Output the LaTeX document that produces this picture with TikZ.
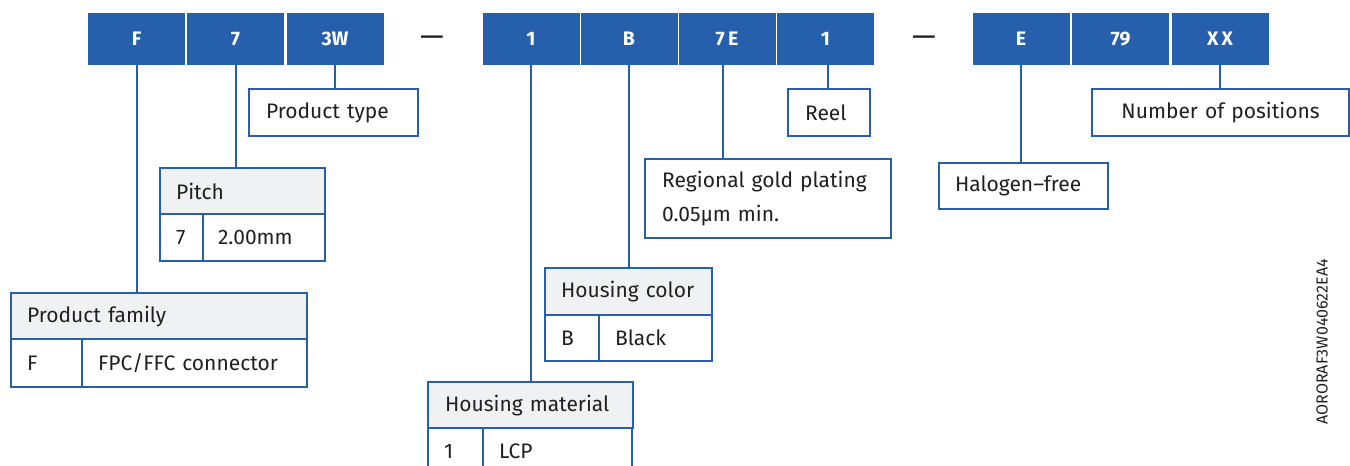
\documentclass[tikz,border=0pt]{standalone}
\usepackage{fontspec}
\setmainfont{Fira Sans}
\definecolor{cblue}{HTML}{265FAC}
\definecolor{chead}{HTML}{F0F1F3}
\definecolor{ctext}{HTML}{231F20}
\tikzset{
  code/.style={fill=cblue, text=white, font=\fontsize{19.5}{22}\selectfont\bfseries,
    minimum width=97pt, minimum height=52pt, inner sep=0pt, anchor=center},
  frame/.style={draw=cblue, line width=2.2pt, text=ctext, fill=white,
    font=\fontsize{21}{34}\selectfont, inner ysep=0pt, inner xsep=16pt,
    anchor=north west, align=left},
  head/.style={frame, fill=chead},
  link/.style={draw=cblue, line width=2pt},
  dashmark/.style={text=ctext, font=\fontsize{30}{32}\selectfont, inner sep=0pt}
}
\begin{document}
\begin{tikzpicture}[x=1pt,y=-1pt]
\useasboundingbox (0,0) rectangle (1350,466);
\clip (0,0) rectangle (1350,466);
% code boxes
\node[code] (cF)  at (136.5,39) {F};
\node[code] (c7)  at (235.5,39) {7};
\node[code] (c3W) at (335,39) {3W};
\node[dashmark] (d1) at (432,41.5) {—};
\node[code] (c1)  at (531,39) {1};
\node[code] (cB)  at (629,39) {B};
\node[code] (c7E) at (727,39) {7\,E};
\node[code] (cR)  at (825.5,39) {1};
\node[dashmark] (d2) at (924,41.5) {—};
\node[code] (cE)  at (1021,39) {E};
\node[code] (c79) at (1120.5,39) {79};
\node[code] (cXX) at (1220,39) {X\,X};
% simple boxes
\node[frame, text width=135pt, inner xsep=17pt, minimum height=47pt] (ptype) at (248,88) {Product type};
\node[frame, text width=48pt, inner xsep=17pt, minimum height=47pt] (reel) at (787,88) {Reel};
\node[frame, text width=212pt, inner xsep=17pt, minimum height=79pt] (gold) at (644,158) {Regional gold plating\\0.05µm min.};
\node[frame, text width=137pt, minimum height=46pt] (halo) at (938,162) {Halogen–free};
\node[frame, text width=225pt, minimum height=47pt, align=center] (npos) at (1091,88) {Number of positions};
% Pitch table
\node[head, text width=133pt, minimum height=46pt] (pitch) at (159,167) {Pitch};
\node[frame, text width=11pt, minimum height=47pt] (pitchA) at (159,213) {7};
\node[frame, minimum height=47pt, inner xsep=15pt, text width=92pt] (pitchB) at (202,213) {2.00mm};
% Product family table
\node[head, text width=264pt, minimum height=46pt] (pfam) at (10,292) {Product family};
\node[frame, text width=39pt, minimum height=48pt] (pfamA) at (10,338) {F};
\node[frame, text width=193pt, minimum height=48pt] (pfamB) at (81,338) {FPC/FFC connector};
% Housing color table
\node[head, text width=135pt, minimum height=47pt] (hcol) at (544,267) {Housing color};
\node[frame, text width=22pt, minimum height=46pt] (hcolA) at (544,314) {B};
\node[frame, text width=81pt, minimum height=46pt] (hcolB) at (598,314) {Black};
% Housing material table
\node[head, text width=171pt, inner xsep=17pt, minimum height=46pt] (hmat) at (427,381) {Housing material};
\node[frame, text width=23pt, minimum height=47pt] (hmatA) at (427,427) {1};
\node[frame, text width=117pt, minimum height=47pt] (hmatB) at (482,427) {LCP};
% connectors
\draw[link] (cF.south) -- (cF.south |- pfam.north);
\draw[link] (c7.south) -- (c7.south |- pitch.north);
\draw[link] (c3W.south) -- (c3W.south |- ptype.north);
\draw[link] (c1.south) -- (c1.south |- hmat.north);
\draw[link] (cB.south) -- (cB.south |- hcol.north);
\draw[link] ([xshift=-4pt]c7E.south) -- ([xshift=-4pt]c7E.south |- gold.north);
\draw[link] ([xshift=2.5pt]cR.south) -- ([xshift=2.5pt]cR.south |- reel.north);
\draw[link] (cE.south) -- (cE.south |- halo.north);
\draw[link] (cXX.south) -- (cXX.south |- npos.north);
% code label
\node[rotate=90, text=ctext, font=\fontsize{16}{18}\selectfont, inner sep=0pt] (docid) at (1322,342) {AORORAF3W040622EA4};
\end{tikzpicture}
\end{document}
